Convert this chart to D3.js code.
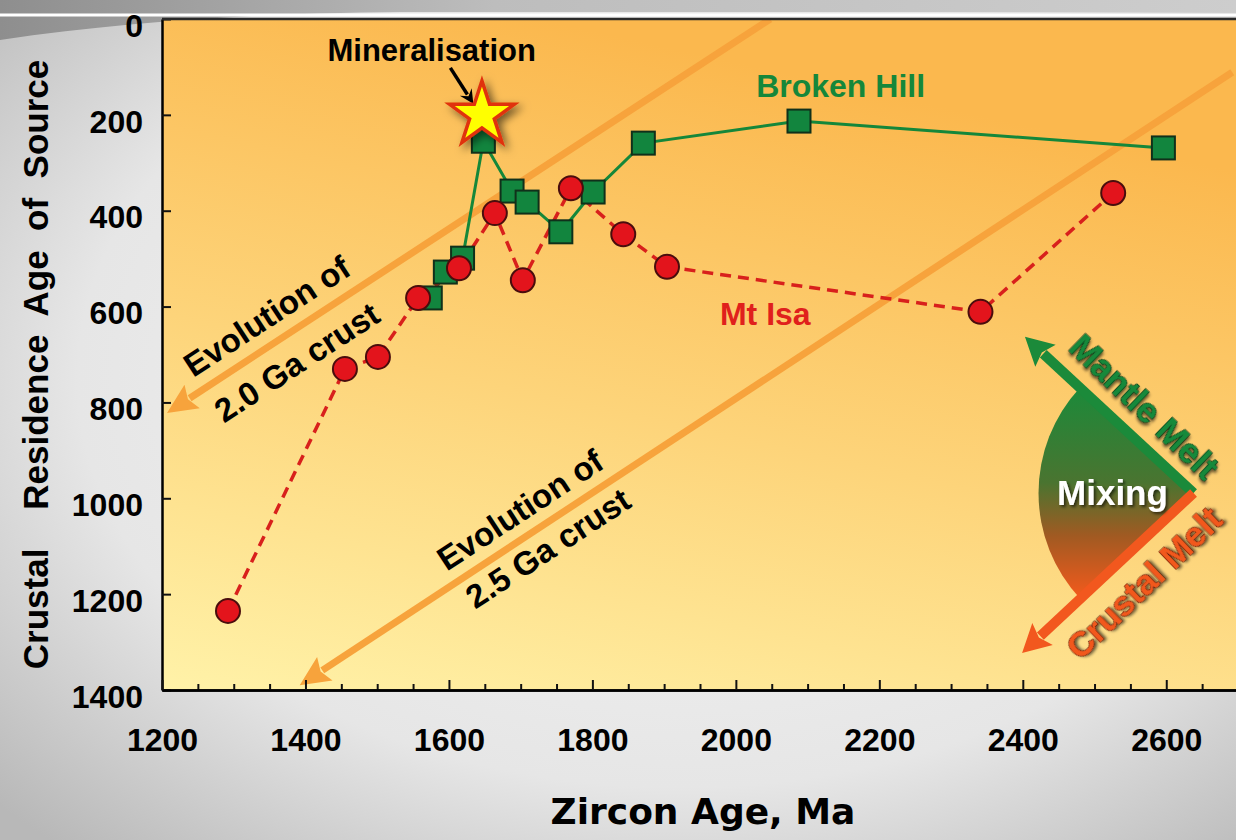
<!DOCTYPE html>
<html lang="en">
<head>
<meta charset="UTF-8">
<title>Zircon Age vs Crustal Residence Age</title>
<script src="https://d3js.org/d3.v7.min.js"></script>
<style>
  html, body { margin: 0; padding: 0; background: #e4e4e4; }
  svg { display: block; font-family: "Liberation Sans", Arial, sans-serif; font-weight: bold; }
</style>
</head>
<body>
<div id="chart"></div>
<script>
// ---- data ----
const xTickVals = [1200, 1400, 1600, 1800, 2000, 2200, 2400, 2600];
const yTickVals = [0, 200, 400, 600, 800, 1000, 1200, 1400];

// Broken Hill (green squares)
const bhZircon    = [1574, 1595, 1619, 1648, 1688, 1709, 1756, 1801, 1871, 2088, 2596];
const bhResidence = [ 582,  528,  499,  255,  359,  382,  444,  361,  259,  213,  269];

// Mt Isa (red circles)
const miZircon    = [1292, 1455, 1501, 1557, 1614, 1664, 1703, 1770, 1843, 1904, 2341, 2526];
const miResidence = [1235,  730,  705,  582,  520,  405,  545,  353,  449,  517,  611,  363];

// crustal evolution lines (start, arrow tip)
const evo20Zircon = [2048, 1207], evo20Residence = [0, 822];
const evo25Zircon = [2692, 1392], evo25Residence = [111, 1390];

// mineralisation star
const mineralZircon = 1646, mineralResidence = 200;

// ---- layout ----
const W = 1236, H = 840;
const margin = {top: 19, right: -2, bottom: 150, left: 162};
const x = d3.scaleLinear().domain([1200, 2700]).range([margin.left, W - margin.right]);
const y = d3.scaleLinear().domain([0, 1400]).range([margin.top, H - margin.bottom]);

const svg = d3.select("#chart").append("svg").attr("width", W).attr("height", H);
const defs = svg.append("defs");

// page background
const pageGrad = defs.append("radialGradient").attr("id", "pageGrad")
  .attr("cx", "55%").attr("cy", "45%").attr("r", "75%");
pageGrad.append("stop").attr("offset", "0%").attr("stop-color", "#f6f6f6");
pageGrad.append("stop").attr("offset", "65%").attr("stop-color", "#e6e6e6");
pageGrad.append("stop").attr("offset", "100%").attr("stop-color", "#b8b8b8");
svg.append("rect").attr("width", W).attr("height", H).attr("fill", "url(#pageGrad)");

const topGrad = defs.append("linearGradient").attr("id", "topGrad");
topGrad.append("stop").attr("offset", "0%").attr("stop-color", "#8e8e8e");
topGrad.append("stop").attr("offset", "40%").attr("stop-color", "#bdbdbd");
topGrad.append("stop").attr("offset", "100%").attr("stop-color", "#cdcdcd");
svg.append("path")
  .attr("d", "M0,0H" + W + "V12H420C300,12 150,18 0,40Z")
  .attr("fill", "url(#topGrad)");
svg.append("line").attr("x1", 0).attr("x2", W).attr("y1", 15).attr("y2", 15)
  .attr("stroke", "#fff").attr("stroke-width", 3);

// plot background
const plotGrad = defs.append("linearGradient").attr("id", "plotGrad")
  .attr("x1", "0.35").attr("y1", "0").attr("x2", "0").attr("y2", "1");
plotGrad.append("stop").attr("offset", "0%").attr("stop-color", "#fbb84e");
plotGrad.append("stop").attr("offset", "50%").attr("stop-color", "#fdd47a");
plotGrad.append("stop").attr("offset", "100%").attr("stop-color", "#fff2a8");
svg.append("rect")
  .attr("x", x(1200)).attr("y", y(0))
  .attr("width", x(2700) - x(1200)).attr("height", y(1400) - y(0))
  .attr("fill", "url(#plotGrad)");

defs.append("clipPath").attr("id", "plotClip").append("rect")
  .attr("x", x(1200)).attr("y", y(0))
  .attr("width", x(2700) - x(1200)).attr("height", y(1400) - y(0));

// shadow filters
const shadow = defs.append("filter").attr("id", "shadow")
  .attr("x", "-50%").attr("y", "-50%").attr("width", "200%").attr("height", "200%");
shadow.append("feDropShadow").attr("dx", 4).attr("dy", 4).attr("stdDeviation", 4)
  .attr("flood-color", "#000").attr("flood-opacity", 0.55);
const textShadow = defs.append("filter").attr("id", "textShadow")
  .attr("x", "-20%").attr("y", "-20%").attr("width", "140%").attr("height", "140%");
textShadow.append("feDropShadow").attr("dx", 2).attr("dy", 2).attr("stdDeviation", 1.5)
  .attr("flood-color", "#000").attr("flood-opacity", 0.6);

// arrow helper: shaft + triangular head
function arrow(g, p0, p1, color, width, headLen, headW) {
  const dx = p1[0] - p0[0], dy = p1[1] - p0[1], len = Math.hypot(dx, dy);
  const ux = dx / len, uy = dy / len;
  const bx = p1[0] - ux * headLen, by = p1[1] - uy * headLen;
  g.append("line")
    .attr("x1", p0[0]).attr("y1", p0[1])
    .attr("x2", bx + ux * 3).attr("y2", by + uy * 3)
    .attr("stroke", color).attr("stroke-width", width);
  g.append("path")
    .attr("d", `M${p1[0]},${p1[1]}L${bx - uy * headW / 2},${by + ux * headW / 2}` +
               `L${bx + ux * 5},${by + uy * 5}L${bx + uy * headW / 2},${by - ux * headW / 2}Z`)
    .attr("fill", color);
}

// ---- crustal evolution lines ----
const evoG = svg.append("g").attr("clip-path", "url(#plotClip)");
const evoColor = "#f7a33c";
arrow(evoG, [x(evo20Zircon[0]), y(evo20Residence[0])], [x(evo20Zircon[1]), y(evo20Residence[1])], evoColor, 7, 30, 28);
arrow(evoG, [x(evo25Zircon[0]), y(evo25Residence[0])], [x(evo25Zircon[1]), y(evo25Residence[1])], evoColor, 7, 30, 28);

const angA = Math.atan2(y(evo20Residence[1]) - y(evo20Residence[0]), x(evo20Zircon[1]) - x(evo20Zircon[0])) * 180 / Math.PI + 180;
const angB = Math.atan2(y(evo25Residence[1]) - y(evo25Residence[0]), x(evo25Zircon[1]) - x(evo25Zircon[0])) * 180 / Math.PI + 180;
const evoLabels = [
  {t: "Evolution of", zx: 1346, ry: 620, a: angA},
  {t: "2.0 Ga crust", zx: 1388, ry: 716, a: angA},
  {t: "Evolution of", zx: 1699, ry: 1024, a: angB},
  {t: "2.5 Ga crust", zx: 1738, ry: 1104, a: angB}
];
svg.selectAll(".evoLabel").data(evoLabels).enter().append("text")
  .attr("class", "evoLabel")
  .attr("transform", d => `translate(${x(d.zx)},${y(d.ry)}) rotate(${d.a})`)
  .attr("text-anchor", "middle").attr("dy", "0.35em")
  .attr("font-size", 33).attr("fill", "#000")
  .text(d => d.t);

// ---- axes ----
const yAxis = d3.axisLeft(y).tickValues(yTickVals).tickFormat(d3.format("d"))
  .tickSizeInner(-9).tickSizeOuter(0).tickPadding(19);
const yG = svg.append("g").attr("transform", `translate(${x(1200)},0)`).call(yAxis);
yG.selectAll("text").attr("y", 7).attr("font-size", 32).attr("font-family", "Liberation Sans, Arial").attr("font-weight", "bold").attr("fill", "#000");

const xMinor = d3.range(1250, 2700, 50).filter(v => v % 200 !== 0);
const xMinorAxis = d3.axisBottom(x).tickValues(xMinor).tickSizeInner(-6).tickSizeOuter(0).tickFormat("");
svg.append("g").attr("transform", `translate(0,${y(1400)})`).call(xMinorAxis);
const xAxis = d3.axisBottom(x).tickValues(xTickVals).tickFormat(d3.format("d"))
  .tickSizeInner(-10).tickSizeOuter(0).tickPadding(38);
const xG = svg.append("g").attr("transform", `translate(0,${y(1400)})`).call(xAxis);
xG.selectAll("text").attr("font-size", 32).attr("font-family", "Liberation Sans, Arial").attr("font-weight", "bold").attr("fill", "#000");

svg.selectAll(".domain").attr("stroke", "#000").attr("stroke-width", 2.5);
svg.selectAll(".tick line").attr("stroke", "#111").attr("stroke-width", 2);

// top border
svg.append("line").attr("x1", x(1200)).attr("x2", W).attr("y1", y(0)).attr("y2", y(0))
  .attr("stroke", "#2a2a2a").attr("stroke-width", 2.5);

// axis titles
svg.append("text")
  .attr("transform", `translate(48,${(y(0) + y(1400)) / 2 + 10}) rotate(-90)`)
  .attr("text-anchor", "middle").attr("font-size", 35).attr("fill", "#000")
  .style("white-space", "pre")
  .text("Crustal    Residence  Age  of  Source");
svg.append("text")
  .attr("x", 703).attr("y", 824)
  .attr("text-anchor", "middle")
  .attr("font-family", "DejaVu Sans, sans-serif").attr("font-size", 36).attr("fill", "#000")
  .text("Zircon Age, Ma");

// ---- series ----
const bh = bhZircon.map((v, i) => ({x: v, y: bhResidence[i]}));
const mi = miZircon.map((v, i) => ({x: v, y: miResidence[i]}));
const line = d3.line().x(d => x(d.x)).y(d => y(d.y));

svg.append("path").datum(bh).attr("d", line)
  .attr("fill", "none").attr("stroke", "#15873a").attr("stroke-width", 3);
svg.append("path").datum(mi).attr("d", line)
  .attr("fill", "none").attr("stroke", "#d8201c").attr("stroke-width", 3.5)
  .attr("stroke-dasharray", "11,7");

const sq = 23;
svg.selectAll(".bh").data(bh).enter().append("rect")
  .attr("class", "bh")
  .attr("x", d => x(d.x) - sq / 2).attr("y", d => y(d.y) - sq / 2)
  .attr("width", sq).attr("height", sq)
  .attr("fill", "#12853e").attr("stroke", "#10301a").attr("stroke-width", 2);
svg.selectAll(".mi").data(mi).enter().append("circle")
  .attr("class", "mi")
  .attr("cx", d => x(d.x)).attr("cy", d => y(d.y)).attr("r", 12)
  .attr("fill", "#e3141c").attr("stroke", "#4a0d0d").attr("stroke-width", 2);

// series labels
svg.append("text").attr("x", x(2146)).attr("y", y(140)).attr("dy", "0.35em")
  .attr("text-anchor", "middle").attr("font-size", 32).attr("fill", "#15873a").text("Broken Hill");
svg.append("text").attr("x", x(2041)).attr("y", y(615)).attr("dy", "0.35em")
  .attr("text-anchor", "middle").attr("font-size", 32).attr("fill", "#e0201c").text("Mt Isa");

// mineralisation
svg.append("text").attr("x", x(1576)).attr("y", y(65)).attr("dy", "0.35em")
  .attr("text-anchor", "middle").attr("font-size", 31).attr("fill", "#000").text("Mineralisation");
arrow(svg.append("g"), [x(1602), y(102)], [x(1634), y(177)], "#000", 3.5, 14, 14);
const starR = 34;
svg.append("path")
  .attr("d", d3.symbol(d3.symbolStar, starR * starR / 0.8908130915292852)())
  .attr("transform", `translate(${x(mineralZircon)},${y(mineralResidence)})`)
  .attr("fill", "#ffff00").attr("stroke", "#e0300c").attr("stroke-width", 3.5)
  .attr("stroke-linejoin", "miter")
  .attr("filter", "url(#shadow)");

// ---- mixing diagram ----
const vx = x(2638), vy = y(989);
const mixGrad = defs.append("linearGradient").attr("id", "mixGrad")
  .attr("x1", 0).attr("y1", 0).attr("x2", 0).attr("y2", 1);
mixGrad.append("stop").attr("offset", "0%").attr("stop-color", "#1b8a3a");
mixGrad.append("stop").attr("offset", "45%").attr("stop-color", "#4a7430");
mixGrad.append("stop").attr("offset", "70%").attr("stop-color", "#a05a22");
mixGrad.append("stop").attr("offset", "100%").attr("stop-color", "#f55a1c");
const green = [x(2403), y(663)], red = [x(2399), y(1323)];
const aG = Math.atan2(green[0] - vx, -(green[1] - vy));
const aR = Math.atan2(red[0] - vx, -(red[1] - vy));
svg.append("path")
  .attr("d", d3.arc().innerRadius(0).outerRadius(155).startAngle(aR).endAngle(aG)())
  .attr("transform", `translate(${vx},${vy})`)
  .attr("fill", "url(#mixGrad)");
arrow(svg.append("g"), [vx, vy], green, "#1b8a3a", 10, 28, 30);
arrow(svg.append("g"), [vx, vy], red, "#f2581e", 10, 28, 30);

svg.append("text").attr("x", x(2525)).attr("y", y(989)).attr("dy", "0.35em")
  .attr("text-anchor", "middle").attr("font-size", 35).attr("fill", "#fff")
  .attr("filter", "url(#textShadow)").text("Mixing");
svg.append("text")
  .attr("transform", `translate(${x(2569)},${y(809)}) rotate(44)`)
  .attr("text-anchor", "middle").attr("dy", "0.35em")
  .attr("font-size", 35).attr("fill", "#17893a")
  .attr("stroke", "#0a2a12").attr("stroke-width", 1.2).attr("paint-order", "stroke")
  .attr("filter", "url(#textShadow)").text("Mantle Melt");
svg.append("text")
  .attr("transform", `translate(${x(2569)},${y(1177)}) rotate(-44)`)
  .attr("text-anchor", "middle").attr("dy", "0.35em")
  .attr("font-size", 35).attr("fill", "#f2581e")
  .attr("stroke", "#5a1a08").attr("stroke-width", 1.2).attr("paint-order", "stroke")
  .attr("filter", "url(#textShadow)").text("Crustal Melt");
</script>
</body>
</html>
